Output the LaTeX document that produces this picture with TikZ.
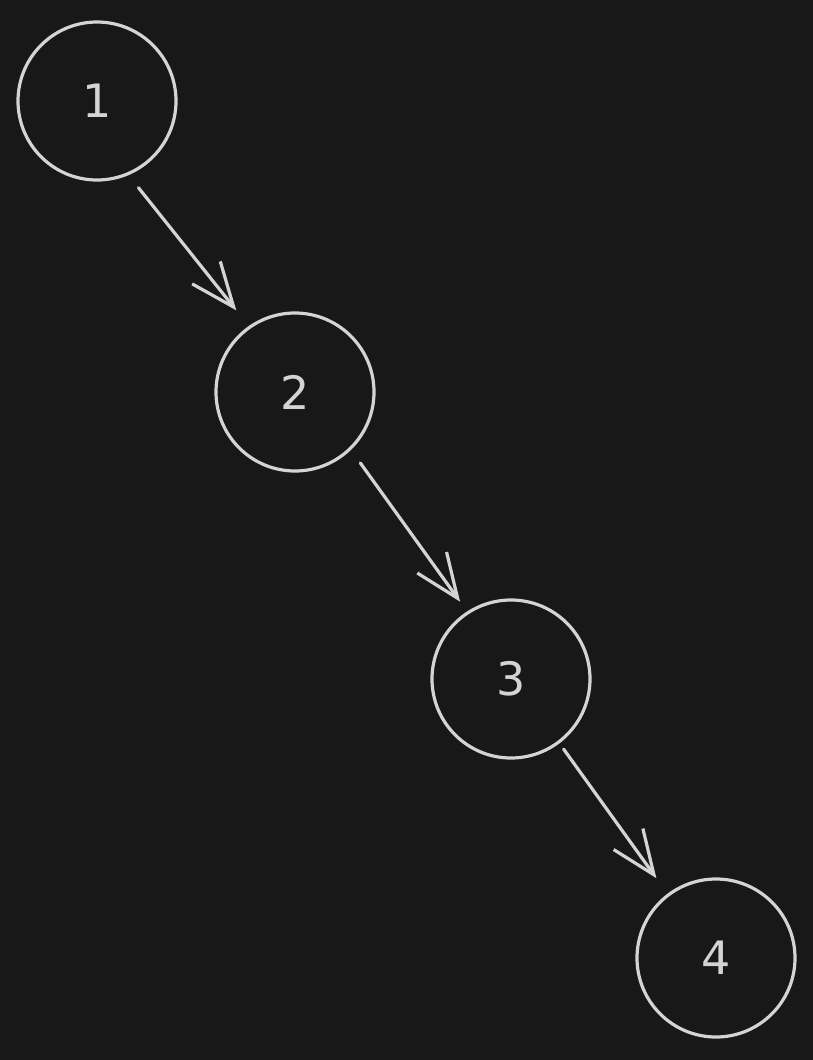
\documentclass[tikz,border=0pt]{standalone}
\usepackage{fontspec}
\setmainfont{DejaVu Sans}
\usetikzlibrary{arrows.meta}
\definecolor{bg}{HTML}{181818}
\definecolor{ink}{HTML}{D4D4D4}
\begin{document}
\begin{tikzpicture}[x=1pt,y=-1pt,
  nodecirc/.style={circle,draw=ink,line width=3.2pt,minimum size=158pt,inner sep=0pt,
    text=ink,font=\fontsize{46}{46}\selectfont},
  conn/.style={draw=ink,line width=3.2pt,line cap=round,
    -{Straight Barb[length=44pt,width=36pt,line width=3.2pt]}}]
\fill[bg] (0,0) rectangle (813,1060);
\useasboundingbox (0,0) rectangle (813,1060);
\node[nodecirc] (n1) at (97,101) {1};
\node[nodecirc] (n2) at (295,392) {2};
\node[nodecirc] (n3) at (511,679) {3};
\node[nodecirc] (n4) at (716,958) {4};
\draw[conn,shorten <=16pt,shorten >=20pt] (n1.-67) -- (n2.125);
\draw[conn,shorten <=16pt,shorten >=12pt] (n2.-46) -- (n3.123);
\draw[conn,shorten <=7pt,shorten >=19pt] (n3.-53) -- (n4.127);
\end{tikzpicture}
\end{document}
